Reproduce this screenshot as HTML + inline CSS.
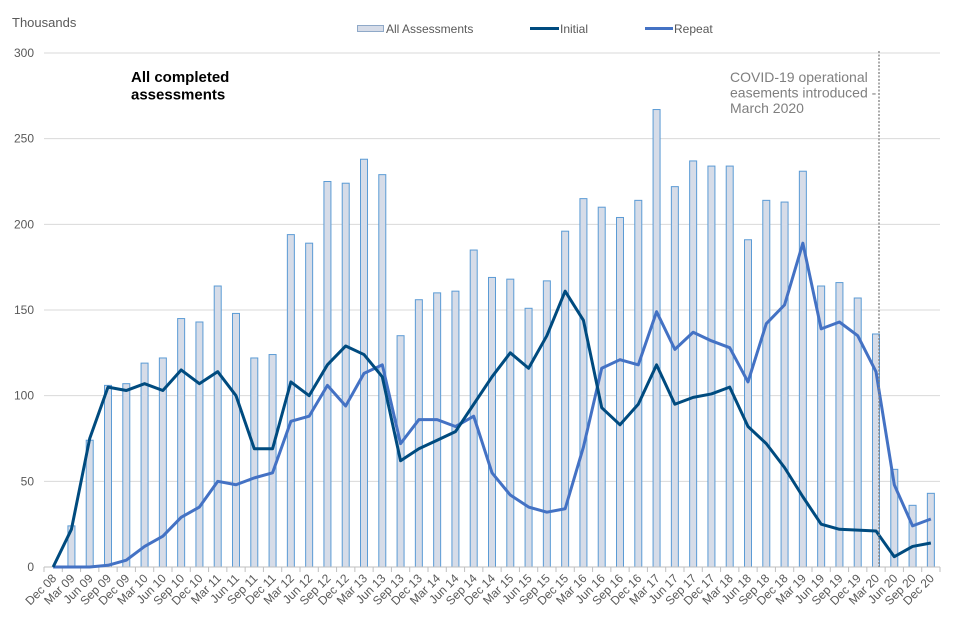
<!DOCTYPE html>
<html><head><meta charset="utf-8"><style>
body{margin:0;background:#fff;}
svg{display:block;font-family:"Liberation Sans",Arial,sans-serif;}
</style></head><body>
<svg id="chart" width="960" height="640"></svg>
<script>
const categories=["Dec 08","Mar 09","Jun 09","Sep 09","Dec 09","Mar 10","Jun 10","Sep 10","Dec 10","Mar 11","Jun 11","Sep 11","Dec 11","Mar 12","Jun 12","Sep 12","Dec 12","Mar 13","Jun 13","Sep 13","Dec 13","Mar 14","Jun 14","Sep 14","Dec 14","Mar 15","Jun 15","Sep 15","Dec 15","Mar 16","Jun 16","Sep 16","Dec 16","Mar 17","Jun 17","Sep 17","Dec 17","Mar 18","Jun 18","Sep 18","Dec 18","Mar 19","Jun 19","Sep 19","Dec 19","Mar 20","Jun 20","Sep 20","Dec 20"];
const allAssessments=[0,24,74,106,107,119,122,145,143,164,148,122,124,194,189,225,224,238,229,135,156,160,161,185,169,168,151,167,196,215,210,204,214,267,222,237,234,234,191,214,213,231,164,166,157,136,57,36,43];
const initial=[0,22,75,105,103,107,103,115,107,114,100,69,69,108,100,118,129,124,111,62,69,74,79,95,111,125,116,135,161,144,93,83,95,118,95,99,101,105,82,72,58,41,25,22,21.5,21,6,12,14];
const repeat=[0,0,0,1,4,12,18,29,35,50,48,52,55,85,88,106,94,113,118,72,86,86,82,88,55,42,35,32,34,70,116,121,118,149,127,137,132,128,108,142,153,189,139,143,135,114,48,24,28];
const yTicks=[0,50,100,150,200,250,300];

const svg=document.getElementById('chart');
const NS='http://www.w3.org/2000/svg';
const L=44,R=940,T=53,B=567,YMAX=300;
const band=(R-L)/categories.length;
const x=i=>L+(i+0.5)*band;
const y=v=>B-(v/YMAX)*(B-T);
function mk(tag,attrs,parent){const e=document.createElementNS(NS,tag);for(const k in attrs)e.setAttribute(k,attrs[k]);(parent||svg).appendChild(e);return e;}

// gridlines and y labels
yTicks.forEach(t=>{
  const g=mk('line',{x1:L,x2:R,y1:y(t),y2:y(t),stroke:'#d9d9d9','stroke-width':1});
  
  
  const tx=mk('text',{x:34,y:y(t)+4,'text-anchor':'end','font-size':12,fill:'#595959'});
  tx.textContent=t;
  
  
});
const yt=mk('text',{x:12,y:27,'font-size':13,fill:'#595959'});yt.textContent='Thousands';



// bars
allAssessments.forEach((v,i)=>{
  if(v<=0)return;
  const b=mk('rect',{x:x(i)-3.5,y:y(v),width:7,height:B-y(v),fill:'#d6dce8',stroke:'#5b9bd5','stroke-width':1});
  
  
});

// x axis
const ax=mk('line',{x1:L,x2:R,y1:B,y2:B,stroke:'#bfbfbf','stroke-width':1});


for(let i=0;i<=categories.length;i++){
  const tk=mk('line',{x1:L+i*band,x2:L+i*band,y1:B,y2:B+5,stroke:'#bfbfbf'});
  
  
}
categories.forEach((c,i)=>{
  const tx=mk('text',{x:0,y:0,'text-anchor':'end','font-size':12,fill:'#595959',transform:`translate(${x(i)+4},${B+12}) rotate(-45)`});
  tx.textContent=c;
  
  
});

// lines
function line(data,color,name){
  const p=mk('polyline',{points:data.map((v,i)=>x(i)+','+y(v)).join(' '),fill:'none',stroke:color,'stroke-width':3,'stroke-linejoin':'round'});
  
  
}
line(repeat,'#4472c4','repeat-line');
line(initial,'#004b7f','initial-line');

// covid marker
const cv=mk('line',{x1:879,x2:879,y1:51,y2:B,stroke:'#808080','stroke-width':1.3,'stroke-dasharray':'2,1.5'});


const ct=mk('text',{x:730,y:82,'font-size':14,fill:'#7f7f7f'});


["COVID-19 operational","easements introduced -","March 2020"].forEach((s,k)=>{const ts=mk('tspan',{x:730,dy:k?15.5:0},ct);ts.textContent=s;});

// subtitle
const st=mk('text',{x:131,y:82,'font-size':15,'font-weight':'bold',fill:'#000'});


["All completed","assessments"].forEach((s,k)=>{const ts=mk('tspan',{x:131,dy:k?17.5:0},st);ts.textContent=s;});

// legend
const lg=mk('g',{});


const e1=mk('g',{},lg);
mk('rect',{x:357.5,y:25.5,width:26,height:6,fill:'#d6dce8',stroke:'#8fa9c8'},e1);
let t1=mk('text',{x:386,y:33,'font-size':12,fill:'#595959'},e1);t1.textContent='All Assessments';
const e2=mk('g',{},lg);
mk('line',{x1:530,x2:559,y1:28.5,y2:28.5,stroke:'#004b7f','stroke-width':3},e2);
let t2=mk('text',{x:560,y:33,'font-size':12,fill:'#595959'},e2);t2.textContent='Initial';
const e3=mk('g',{},lg);
mk('line',{x1:645,x2:673,y1:28.5,y2:28.5,stroke:'#4472c4','stroke-width':3},e3);
let t3=mk('text',{x:674,y:33,'font-size':12,fill:'#595959'},e3);t3.textContent='Repeat';
</script>
</body></html>
